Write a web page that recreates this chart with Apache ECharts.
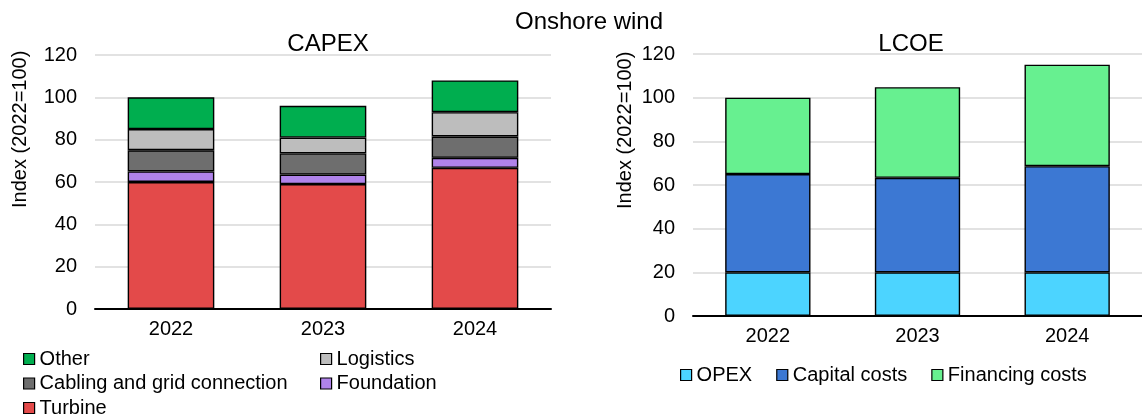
<!DOCTYPE html>
<html><head><meta charset="utf-8">
<script src="https://cdn.jsdelivr.net/npm/echarts@6/dist/echarts.min.js"></script>
<style>html,body{margin:0;padding:0;background:#fff}#c{width:1142px;height:415px}</style>
</head><body><div id="c"></div>
<script>
const years = ['2022', '2023', '2024'];
const yTicks = [0, 20, 40, 60, 80, 100, 120];
// CAPEX components (index, 2022=100)
const turbine = [60, 59, 66.7];
const foundation = [5, 4.5, 4.7];
const cabling = [10, 10, 10.1];
const logistics = [10, 7.5, 11.5];
const other = [15, 15, 15];
// LCOE components
const opex = [20, 20, 20];
const capitalCosts = [45, 43.3, 48.6];
const financingCosts = [35, 41.5, 46.5];

const FONT = 'Liberation Sans, Arial, sans-serif';
const chart = echarts.init(document.getElementById('c'), null, {renderer: 'canvas'});

function bar(name, data, color, idx) {
  return {name, type: 'bar', stack: 's' + idx, data, xAxisIndex: idx, yAxisIndex: idx,
    barWidth: '57%', itemStyle: {color, borderColor: '#000', borderWidth: 1.4}, emphasis: {disabled: true}};
}
const xAx = (idx) => ({type: 'category', gridIndex: idx, data: years,
  axisLine: {lineStyle: {color: '#000', width: 2}}, axisTick: {show: false},
  axisLabel: {color: '#000', fontSize: 20, fontFamily: FONT, margin: 10}});
const yAx = (idx) => ({type: 'value', gridIndex: idx, min: yTicks[0], max: yTicks[yTicks.length - 1], interval: 20,
  axisLine: {show: false}, axisTick: {show: false},
  splitLine: {lineStyle: {color: '#D9D9D9', width: 1.5}},
  axisLabel: {color: '#000', fontSize: 20, fontFamily: FONT, margin: 18}});

const legText = {color: '#000', fontSize: 20, fontFamily: FONT};
const legBase = {itemWidth: 11, itemHeight: 11, textStyle: legText, icon: 'rect', selectedMode: false, padding: 0,
  itemStyle: {borderColor: '#000', borderWidth: 1.2}};
const titleStyle = {fontSize: 24, fontWeight: 'normal', color: '#000', fontFamily: FONT};
chart.setOption({
  animation: false,
  title: [
    {text: 'Onshore wind', left: 584, top: 5, textAlign: 'center', textStyle: titleStyle},
    {text: 'CAPEX', left: 323, top: 27, textAlign: 'center', textStyle: titleStyle},
    {text: 'LCOE', left: 906, top: 27, textAlign: 'center', textStyle: titleStyle}
  ],
  grid: [
    {left: 95, right: 591, top: 55, bottom: 106},
    {left: 693, right: -6, top: 54, bottom: 99}
  ],
  xAxis: [xAx(0), xAx(1)],
  yAxis: [yAx(0), yAx(1)],
  legend: [
    Object.assign({data: ['Other', 'Cabling and grid connection', 'Turbine'], orient: 'vertical', left: 23, top: 349, height: 80, itemGap: 4.5}, legBase),
    Object.assign({data: ['Logistics', 'Foundation'], orient: 'vertical', left: 320, top: 349, height: 80, itemGap: 4.5}, legBase),
    Object.assign({data: ['OPEX', 'Capital costs', 'Financing costs'], orient: 'horizontal', left: 680, top: 365, itemGap: 24}, legBase)
  ],
  graphic: [
    {type: 'text', x: 10, y: 208, rotation: Math.PI / 2, style: {text: 'Index (2022=100)', fontSize: 20, fontFamily: FONT, fill: '#000', textAlign: 'left', textVerticalAlign: 'top'}},
    {type: 'text', x: 615, y: 209, rotation: Math.PI / 2, style: {text: 'Index (2022=100)', fontSize: 20, fontFamily: FONT, fill: '#000', textAlign: 'left', textVerticalAlign: 'top'}}
  ],
  series: [
    bar('Turbine', turbine, '#E34A4A', 0),
    bar('Foundation', foundation, '#B083EA', 0),
    bar('Cabling and grid connection', cabling, '#6E6E6E', 0),
    bar('Logistics', logistics, '#BDBDBD', 0),
    bar('Other', other, '#00AE4F', 0),
    bar('OPEX', opex, '#4CD4FF', 1),
    bar('Capital costs', capitalCosts, '#3C78D3', 1),
    bar('Financing costs', financingCosts, '#67F090', 1)
  ]
});
</script></body></html>
